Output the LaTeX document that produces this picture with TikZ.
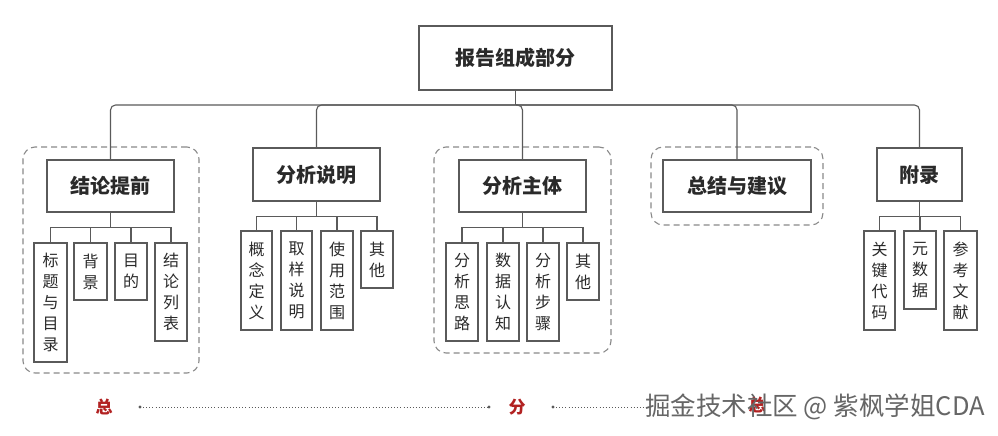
\documentclass[tikz,border=0pt]{standalone}
\usepackage{fontspec}
\setmainfont{Noto Sans CJK SC}
\usetikzlibrary{calc}
\definecolor{ln}{HTML}{5A5A5A}
\definecolor{tx}{HTML}{2A2A2A}
\definecolor{fr}{HTML}{8A8A8A}
\definecolor{rd}{HTML}{B22222}
\begin{document}
\begin{tikzpicture}[x=1pt,y=-1pt,
  box/.style={draw=ln,line width=1.1pt,inner sep=0pt,text=tx},
  mainbox/.style={box,font=\fontsize{20}{23}\selectfont\bfseries},
  vbox/.style={box,align=center,font=\fontsize{16}{21}\selectfont},
  frame/.style={draw=fr,line width=1.1pt,dash pattern=on 6pt off 4pt,rounded corners=12pt,inner sep=0pt},
  conn/.style={draw=ln,line width=1.1pt},
  bus/.style={conn,rounded corners=5pt},
  redc/.style={text=rd,font=\fontsize{17}{20}\selectfont\bfseries},
  dotl/.style={draw=ln,line width=0.9pt,dash pattern=on 0.9pt off 2.2pt}
]
\useasboundingbox (0,0) rectangle (998,436);
\fill[white] (0,0) rectangle (998,436);

% dashed group frames
\node[frame,minimum width=176pt,minimum height=226pt] (g1) at (111,260) {};
\node[frame,minimum width=177pt,minimum height=206pt] (g2) at (522.5,250) {};
\node[frame,minimum width=172pt,minimum height=78pt] (g3) at (737,186) {};

% top node
\node[mainbox,fill=white,minimum width=193pt,minimum height=64pt] (top) at (515.5,58) {报告组成部分};

% level 1
\node[mainbox,fill=white,minimum width=127pt,minimum height=52pt] (jl) at (110.5,186) {结论提前};
\node[mainbox,minimum width=127pt,minimum height=53pt] (fx) at (316.5,174.5) {分析说明};
\node[mainbox,fill=white,minimum width=127pt,minimum height=52pt] (zt) at (522.5,186) {分析主体};
\node[mainbox,fill=white,minimum width=148pt,minimum height=52pt] (zj) at (737,186) {总结与建议};
\node[mainbox,minimum width=85pt,minimum height=53pt] (fl) at (919.5,174.5) {附录};

% level 2
\node[vbox,minimum width=33pt,minimum height=119pt] (a1) at (50.5,302.5) {标\\题\\与\\目\\录};
\node[vbox,minimum width=33pt,minimum height=57pt] (a2) at (90.5,271.5) {背\\景};
\node[vbox,minimum width=32pt,minimum height=57pt] (a3) at (131,271.5) {目\\的};
\node[vbox,minimum width=32pt,minimum height=98pt] (a4) at (171,292) {结\\论\\列\\表};

\node[vbox,minimum width=31pt,minimum height=99pt] (b1) at (256.5,280.5) {概\\念\\定\\义};
\node[vbox,minimum width=31pt,minimum height=99pt] (b2) at (296.5,280.5) {取\\样\\说\\明};
\node[vbox,minimum width=32pt,minimum height=99pt] (b3) at (337,280.5) {使\\用\\范\\围};
\node[vbox,minimum width=32pt,minimum height=57pt] (b4) at (377,259.5) {其\\他};

\node[vbox,minimum width=32pt,minimum height=98pt] (c1) at (462,292) {分\\析\\思\\路};
\node[vbox,minimum width=32pt,minimum height=98pt] (c2) at (503,292) {数\\据\\认\\知};
\node[vbox,minimum width=32pt,minimum height=98pt] (c3) at (543,292) {分\\析\\步\\骤};
\node[vbox,minimum width=32pt,minimum height=57pt] (c4) at (583,271.5) {其\\他};

\node[vbox,minimum width=31pt,minimum height=99pt] (d1) at (879.5,280.5) {关\\键\\代\\码};
\node[vbox,minimum width=32pt,minimum height=78pt] (d2) at (920,270) {元\\数\\据};
\node[vbox,minimum width=33pt,minimum height=99pt] (d3) at (960.5,280.5) {参\\考\\文\\献};

% main bus
\coordinate (bus) at (515.5,105);
\draw[conn] (top.south) -- (bus);
\foreach \n in {jl,fx,zt,zj,fl} \draw[bus] (bus) -| (\n.north);

% child buses
\foreach \p/\cs in {jl/{a1,a2,a3,a4},fx/{b1,b2,b3,b4},zt/{c1,c2,c3,c4},fl/{d1,d2,d3}}{
  \foreach \c in \cs \draw[conn] (\p.south) -- ++(0,15) -| (\c.north);
}

% bottom line
\node[redc] (s1) at (104,407) {总};
\node[redc] (s2) at (517,407) {分};
\node[redc] (s3) at (757,405) {总};
\coordinate (l1a) at (140,407);
\coordinate (l1b) at (489,407);
\coordinate (l2a) at (553,407);
\coordinate (l2b) at (645,407);
\draw[dotl] (l1a) -- (l1b);
\draw[dotl] (l2a) -- (l2b);
\fill[ln] (l1a) circle (1.6pt) (l1b) circle (1.6pt) (l2a) circle (1.6pt);

% watermark
\node[anchor=west,inner sep=0pt,text=black!60,font=\fontsize{25.5}{27}\selectfont] (wm) at (645,407) {掘金技术社区 @ 紫枫学姐CDA};
\end{tikzpicture}
\end{document}
